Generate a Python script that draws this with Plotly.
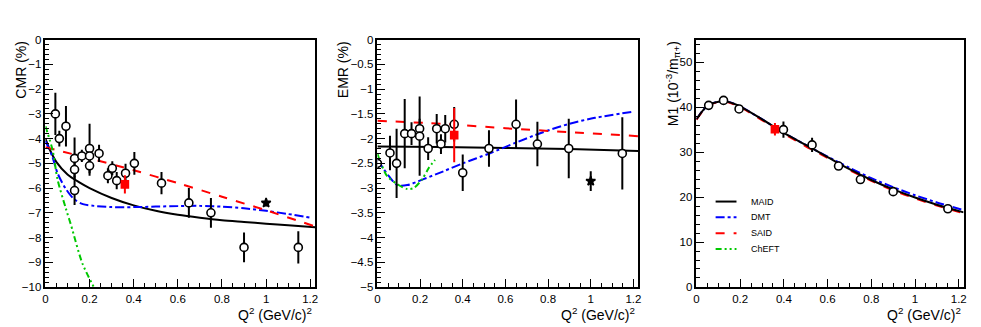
import plotly.graph_objects as go

# ---------------- CMR (%) panel ----------------
cmr_q2 = [0.045, 0.063, 0.093, 0.132, 0.132, 0.132, 0.165, 0.20, 0.20, 0.20, 0.243,
          0.283, 0.303, 0.323, 0.363, 0.403, 0.526, 0.65, 0.75, 0.90, 1.146]
cmr_val = [-3.0, -4.0, -3.5, -4.8, -5.25, -6.1, -4.7, -4.4, -4.7, -5.1, -4.6,
           -5.5, -5.2, -5.7, -5.4, -5.0, -5.8, -6.6, -7.0, -8.4, -8.4]
cmr_err = [0.85, 0.32, 0.82, 0.85, 0.3, 0.58, 0.25, 1.0, 0.3, 0.4, 0.35,
           0.3, 0.28, 0.35, 0.38, 0.46, 0.45, 0.6, 0.6, 0.6, 0.65]
cmr_this_q2, cmr_this_val, cmr_this_err = [0.36], [-5.85], [0.37]
cmr_star_q2, cmr_star_val, cmr_star_err = [1.0], [-6.6], [0.15]

cmr_maid_q2 = [0, 0.02, 0.05, 0.1, 0.15, 0.2, 0.3, 0.4, 0.5, 0.6, 0.7, 0.8, 0.9, 1.0, 1.1, 1.222]
cmr_maid = [-4.0, -4.45, -4.95, -5.45, -5.75, -6.0, -6.4, -6.7, -6.92, -7.08, -7.2, -7.3, -7.37, -7.44, -7.5, -7.58]
cmr_dmt_q2 = [0, 0.03, 0.055, 0.09, 0.13, 0.17, 0.22, 0.3, 0.4, 0.5, 0.6, 0.7, 0.8, 0.9, 1.0, 1.1, 1.2]
cmr_dmt = [-4.1, -4.7, -5.4, -6.0, -6.45, -6.65, -6.72, -6.77, -6.77, -6.75, -6.73, -6.72, -6.75, -6.82, -6.92, -7.05, -7.2]
cmr_said_q2 = [0, 0.2, 0.4, 0.6, 0.8, 1.0, 1.222]
cmr_said = [-4.35, -4.8, -5.28, -5.8, -6.35, -6.9, -7.55]
cmr_cheft_q2 = [0.0, 0.033, 0.055, 0.093, 0.116, 0.168, 0.225]
cmr_cheft = [-3.5, -4.49, -5.66, -6.84, -7.5, -9.06, -10.1]

# ---------------- EMR (%) panel ----------------
emr_q2 = [0.0, 0.059, 0.09, 0.128, 0.16, 0.198, 0.198, 0.238, 0.278, 0.298, 0.318,
          0.36, 0.40, 0.523, 0.65, 0.75, 0.897, 1.148]
emr_val = [-2.5, -2.29, -2.5, -1.9, -1.9, -1.8, -1.95, -2.2, -1.8, -2.11, -1.8,
           -1.71, -2.69, -2.2, -1.71, -2.11, -2.2, -2.3]
emr_err = [0.05, 0.35, 0.7, 0.7, 0.23, 0.2, 0.8, 0.23, 0.3, 0.2, 0.28,
           0.35, 0.37, 0.37, 0.5, 0.45, 0.6, 0.73]
emr_this_q2, emr_this_val, emr_this_err = [0.36], [-1.93], [0.55]
emr_star_q2, emr_star_val, emr_star_err = [1.0], [-2.86], [0.2]

emr_maid_q2 = [0, 0.3, 0.6, 0.9, 1.222]
emr_maid = [-2.16, -2.17, -2.19, -2.21, -2.25]
emr_dmt_q2 = [0.0, 0.054, 0.093, 0.14, 0.216, 0.31, 0.40, 0.525, 0.65, 0.77, 0.9, 1.02, 1.19]
emr_dmt = [-2.43, -2.76, -2.94, -2.94, -2.82, -2.66, -2.5, -2.3, -2.08, -1.88, -1.7, -1.58, -1.46]
emr_said_q2 = [0, 0.3, 0.6, 0.9, 1.222]
emr_said = [-1.64, -1.7, -1.79, -1.87, -1.95]
emr_cheft_q2 = [0.0, 0.01, 0.046, 0.093, 0.14, 0.17, 0.21, 0.24, 0.27]
emr_cheft = [-2.3, -2.43, -2.76, -2.92, -3.02, -3.0, -2.82, -2.6, -2.43]

# ---------------- M1 panel ----------------
m1_q2 = [0.056, 0.124, 0.195, 0.398, 0.529, 0.65, 0.75, 0.90, 1.15]
m1_val = [40.4, 41.5, 39.6, 35.0, 31.6, 26.9, 23.9, 21.2, 17.4]
m1_err = [0.5, 0.5, 0.5, 1.8, 1.6, 0.6, 0.7, 0.7, 0.5]
m1_this_q2, m1_this_val, m1_this_err = [0.359], [35.1], [1.4]

m1_curve_q2 = [0, 0.03, 0.056, 0.09, 0.128, 0.185, 0.29, 0.4, 0.5, 0.6, 0.7, 0.8, 0.9, 1.0, 1.1, 1.222]
m1_maid = [37.3, 39.3, 40.5, 41.1, 41.3, 40.5, 37.6, 34.3, 31.6, 28.9, 26.2, 23.8, 21.7, 19.9, 18.3, 16.6]
m1_dmt = [37.3, 39.3, 40.5, 41.1, 41.3, 40.5, 37.6, 34.3, 31.6, 29.0, 26.5, 24.2, 22.2, 20.4, 18.8, 17.1]
m1_said = [37.2, 39.2, 40.4, 41.0, 41.2, 40.4, 37.4, 34.1, 31.3, 28.7, 26.0, 23.6, 21.5, 19.7, 18.1, 16.4]

# legend (drawn by hand, ROOT style)
legend_names = ["MAID", "DMT", "SAID", "ChEFT"]

FONT = "Liberation Sans, Arial, Helvetica, sans-serif"
RED = "#ff0000"
BLUE = "#0000ff"
GREEN = "#00c800"
CHEFT_DASH = "6px,3px,2px,3px,2px,3px"
STYLES = {"MAID": ("black", "solid"), "DMT": (BLUE, "dashdot"),
          "SAID": (RED, "dash"), "ChEFT": (GREEN, CHEFT_DASH)}

fig = go.Figure()


def add_line(xa, ya, q, v, name):
    color, dash = STYLES[name]
    fig.add_trace(go.Scatter(
        x=q, y=v, mode="lines", name=name, xaxis=xa, yaxis=ya, showlegend=False,
        line=dict(color=color, width=2, dash=dash, shape="spline", smoothing=0.8),
    ))


def add_points(xa, ya, q, v, e, symbol, color, fill, size):
    fig.add_trace(go.Scatter(
        x=q, y=v, mode="markers", xaxis=xa, yaxis=ya, showlegend=False,
        error_y=dict(type="data", array=e, color=color, thickness=2, width=0),
        marker=dict(symbol=symbol, size=size, color=fill, line=dict(color=color, width=1.6)),
    ))


# panel 1
add_line("x", "y", cmr_maid_q2, cmr_maid, "MAID")
add_line("x", "y", cmr_dmt_q2, cmr_dmt, "DMT")
add_line("x", "y", cmr_said_q2, cmr_said, "SAID")
add_line("x", "y", cmr_cheft_q2, cmr_cheft, "ChEFT")
add_points("x", "y", cmr_q2, cmr_val, cmr_err, "circle", "black", "white", 8)
add_points("x", "y", cmr_star_q2, cmr_star_val, cmr_star_err, "star", "black", "black", 7)
add_points("x", "y", cmr_this_q2, cmr_this_val, cmr_this_err, "square", RED, RED, 7)

# panel 2
add_line("x2", "y2", emr_maid_q2, emr_maid, "MAID")
add_line("x2", "y2", emr_dmt_q2, emr_dmt, "DMT")
add_line("x2", "y2", emr_said_q2, emr_said, "SAID")
add_line("x2", "y2", emr_cheft_q2, emr_cheft, "ChEFT")
add_points("x2", "y2", emr_q2, emr_val, emr_err, "circle", "black", "white", 8)
add_points("x2", "y2", emr_star_q2, emr_star_val, emr_star_err, "star", "black", "black", 7)
add_points("x2", "y2", emr_this_q2, emr_this_val, emr_this_err, "square", RED, RED, 7)

# panel 3
add_line("x3", "y3", m1_curve_q2, m1_dmt, "DMT")
add_line("x3", "y3", m1_curve_q2, m1_said, "SAID")
add_line("x3", "y3", m1_curve_q2, m1_maid, "MAID")
add_points("x3", "y3", m1_q2, m1_val, m1_err, "circle", "black", "white", 8)
add_points("x3", "y3", m1_this_q2, m1_this_val, m1_this_err, "square", RED, RED, 7)


def axis_common():
    return dict(ticks="inside", ticklen=8, tickwidth=1, tickcolor="black",
                showline=True, mirror=True, linecolor="black", linewidth=1.5,
                showgrid=False, zeroline=False, tickfont=dict(size=11.5, color="black"))


def xax(domain, anchor):
    d = axis_common()
    d.update(domain=domain, anchor=anchor, range=[0, 1.222], dtick=0.2, tick0=0,
             ticklabelstandoff=0,
             minor=dict(dtick=0.05, ticks="inside", ticklen=4, tickcolor="black"))
    return d


def yax(domain, anchor, rng, dt, mdt):
    d = axis_common()
    d.update(domain=domain, anchor=anchor, range=rng, dtick=dt, tick0=0,
             minor=dict(dtick=mdt, ticks="inside", ticklen=4, tickcolor="black"))
    return d


ydom = [0.108, 0.893]
W, H = 981, 327

annotations = []
for xr in [313, 638, 966]:
    annotations.append(dict(text="Q<sup>2</sup> (GeV/c)<sup>2</sup>", xref="paper", yref="paper",
                            x=xr / W, y=(H - 320) / H, xanchor="right", yanchor="middle",
                            showarrow=False, font=dict(size=14, color="black")))
for xc, txt in [(18, "CMR (%)"), (342, "EMR (%)"), (674, "M1 (10<sup>-3</sup>/m<sub>π+</sub>)")]:
    annotations.append(dict(text=txt, xref="paper", yref="paper", textangle=-90,
                            x=xc / W, y=(H - 34) / H, xanchor="center", yanchor="top",
                            showarrow=False, font=dict(size=14, color="black")))

shapes = []
for i, name in enumerate(legend_names):
    color, dash = STYLES[name]
    yc = (H - (203 + 16.4 * i)) / H
    shapes.append(dict(type="line", xref="paper", yref="paper", x0=717 / W, x1=738 / W,
                       y0=yc, y1=yc, line=dict(color=color, width=2, dash=dash)))
    annotations.append(dict(text=name, xref="paper", yref="paper", x=751 / W, y=yc,
                            xanchor="left", yanchor="middle", showarrow=False,
                            font=dict(size=9, color="black")))

fig.update_layout(
    width=W, height=H, autosize=False,
    margin=dict(l=0, r=0, t=0, b=0),
    paper_bgcolor="white", plot_bgcolor="white",
    font=dict(family=FONT, color="black"),
    xaxis=xax([42.7 / W, 314 / W], "y"),
    yaxis=yax(ydom, "x", [-10, 0], 1, 0.2),
    xaxis2=xax([376.7 / W, 639 / W], "y2"),
    yaxis2=yax(ydom, "x2", [-5, 0], 0.5, 0.1),
    xaxis3=xax([697.7 / W, 966.5 / W], "y3"),
    yaxis3=yax(ydom, "x3", [0, 55], 10, 2),
    showlegend=False,
    annotations=annotations,
    shapes=shapes,
)

fig.write_html("out.html", config={"displayModeBar": False},
               post_script="document.body.style.margin='0px';")
